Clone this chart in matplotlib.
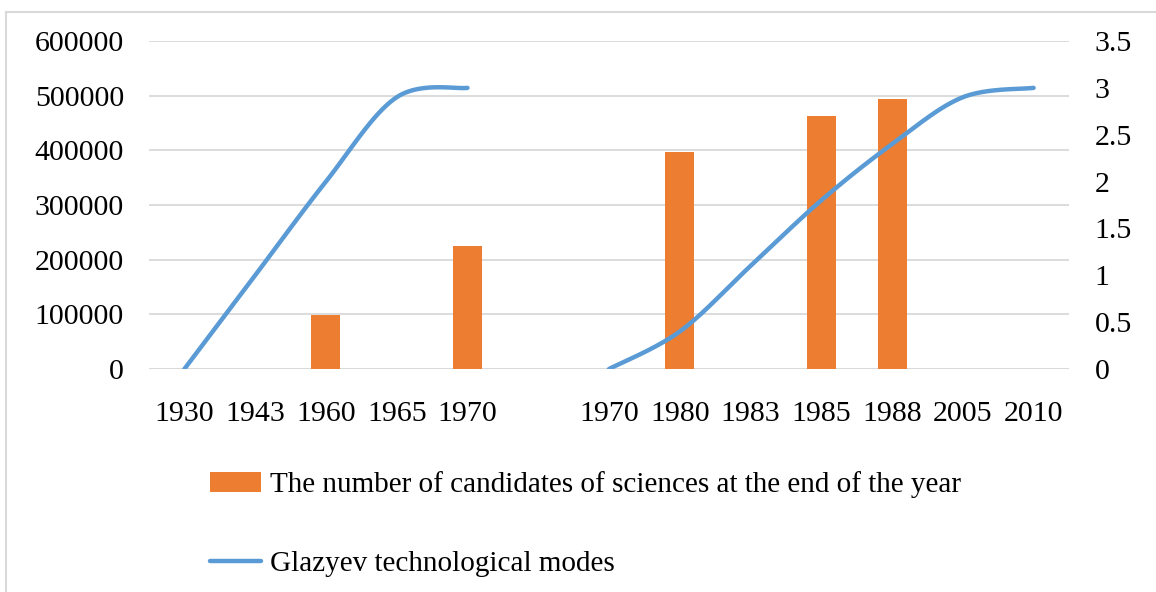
import numpy as np
import matplotlib
matplotlib.use("Agg")
import matplotlib.pyplot as plt
from matplotlib.lines import Line2D
from matplotlib.patches import Patch

# ---- data ----
categories = ["1930", "1943", "1960", "1965", "1970", "",
              "1970", "1980", "1983", "1985", "1988", "2005", "2010"]
candidates = [None, None, 98000, None, 225000, None,
              None, 397000, None, 463000, 494000, None, None]
modes = [0, 1, 2, 2.9, 3, None,
         0, 0.4, 1.1, 1.8, 2.4, 2.9, 3]
bar_label = "The number of candidates of sciences at the end of the year"
line_label = "Glazyev technological modes"
left_ticks = [0, 100000, 200000, 300000, 400000, 500000, 600000]
right_ticks = [0, 0.5, 1, 1.5, 2, 2.5, 3, 3.5]
right_tick_labels = ["0", "0.5", "1", "1.5", "2", "2.5", "3", "3.5"]

ORANGE = "#ED7D31"
BLUE = "#5B9BD5"
GRID = "#D9D9D9"
FONT = "Liberation Serif"
FS = 21.5
LFS = 21

plt.rcParams["font.family"] = [FONT, "DejaVu Serif"]

fig = plt.figure(figsize=(11.56, 5.92), dpi=100)
ax = fig.add_axes([149 / 1156, 1 - 369 / 592, (1069 - 149) / 1156, (369 - 41) / 592])
ax2 = ax.twinx()

x = np.arange(len(categories))
bx = [i for i, v in enumerate(candidates) if v is not None]
bv = [v for v in candidates if v is not None]
ax.bar(bx, bv, width=0.41, color=ORANGE, zorder=2)

ax.set_xlim(-0.5, len(categories) - 0.5)
ax.set_ylim(0, 600000)
ax.set_yticks(left_ticks)
ax.set_yticklabels([str(t) for t in left_ticks])
ax.set_xticks(x)
ax.set_xticklabels(categories)
ax.yaxis.grid(True, color=GRID, linewidth=1.3, zorder=0)
ax.set_axisbelow(True)
for s in ax.spines.values():
    s.set_visible(False)
ax.tick_params(axis="both", length=0, labelsize=FS, colors="black")
ax.tick_params(axis="y", pad=18)
ax.tick_params(axis="x", pad=22.8)
ax.axhline(0, color=GRID, linewidth=1.3, zorder=1)


def smooth_run(xs, ys, n=30):
    xs = np.asarray(xs, float)
    ys = np.asarray(ys, float)
    P = np.column_stack([xs, ys])
    m = len(P)
    out = []
    for i in range(m - 1):
        p0 = P[i - 1] if i > 0 else P[i]
        p1 = P[i]
        p2 = P[i + 1]
        p3 = P[i + 2] if i + 2 < m else P[i + 1]
        c1 = p1 + (p2 - p0) / 6.0
        c2 = p2 - (p3 - p1) / 6.0
        t = np.linspace(0, 1, n)[:, None]
        seg = ((1 - t) ** 3) * p1 + 3 * ((1 - t) ** 2) * t * c1 + 3 * (1 - t) * t ** 2 * c2 + t ** 3 * p2
        out.append(seg if i == 0 else seg[1:])
    return np.vstack(out)


runs = []
cur = []
for i, v in enumerate(modes):
    if v is None:
        if cur:
            runs.append(cur)
        cur = []
    else:
        cur.append((i, v))
if cur:
    runs.append(cur)
for r in runs:
    xs, ys = zip(*r)
    pts = smooth_run(xs, ys)
    ax2.plot(pts[:, 0], pts[:, 1], color=BLUE, linewidth=3.2,
             solid_capstyle="round", zorder=3)

ax2.set_ylim(0, 3.5)
ax2.set_yticks(right_ticks)
ax2.set_yticklabels(right_tick_labels)
for s in ax2.spines.values():
    s.set_visible(False)
ax2.tick_params(axis="y", length=0, labelsize=FS, pad=18.5, colors="black")

handles = [Patch(facecolor=ORANGE, edgecolor="none", label=bar_label),
           Line2D([0], [0], color=BLUE, linewidth=3.2, solid_capstyle="round", label=line_label)]
leg = fig.legend(handles=handles, loc="upper left", bbox_to_anchor=(210 / 1156, 1 - 471 / 592),
                 frameon=False, fontsize=LFS, ncol=1, labelspacing=1.8,
                 handlelength=1.75, handletextpad=0.3, borderaxespad=0, borderpad=0)

# chart border (light grey frame)
fig.add_artist(Line2D([6 / 1156, 6 / 1156], [0, 1 - 12 / 592], transform=fig.transFigure,
                      color=GRID, linewidth=1.5))
fig.add_artist(Line2D([6 / 1156, 1], [1 - 12 / 592, 1 - 12 / 592], transform=fig.transFigure,
                      color=GRID, linewidth=1.5))

fig.savefig("out.png", dpi=100, facecolor="white")
